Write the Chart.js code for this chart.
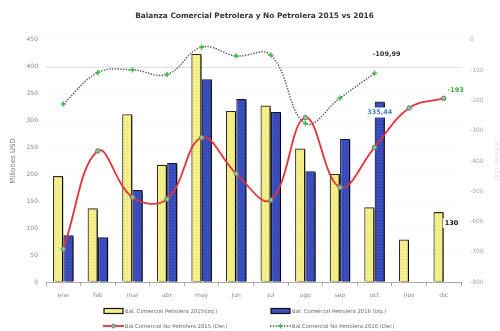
<!DOCTYPE html>
<html>
<head>
<meta charset="utf-8">
<script src="https://cdn.jsdelivr.net/npm/chart.js@4/dist/chart.umd.min.js"></script>
<style>
  html, body { margin: 0; padding: 0; background: #fff; }
  #wrap { position: relative; width: 500px; height: 331px; }
  .ley { position: absolute; height: 10px; display: flex; align-items: center;
         font: 5.3px 'DejaVu Sans', Verdana, sans-serif; color: #666; white-space: nowrap; }
  .ley canvas { margin-right: 1px; }
</style>
</head>
<body>
<div id="wrap">
  <canvas id="balanza"></canvas>
  <div id="leyenda"></div>
</div>
<script>
// Balanza comercial (millones USD)
const meses = ['ene', 'feb', 'mar', 'abr', 'may', 'jun', 'jul', 'ago', 'sep', 'oct', 'nov', 'dic'];
const petrolera2015 = [197, 137, 312, 218, 424, 318, 328, 248, 201, 139, 79, 130];
const petrolera2016 = [87, 83, 171, 221, 377, 340, 316, 206, 266, 335.44, null, null];
const noPetrolera2015 = [-691, -367, -520, -526, -323, -442, -529, -257, -487, -355, -225, -193];
const noPetrolera2016 = [-212, -108, -99, -114, -24, -53, -50, -276, -192, -109.99, null, null];
const ticksIzq = [0, 50, 100, 150, 200, 250, 300, 350, 400, 450];
const ticksDer = [0, -100, -200, -300, -400, -500, -600, -700, -800];

const FONT = "'DejaVu Sans', Verdana, sans-serif";
const canvas = document.getElementById('balanza');
const ctx = canvas.getContext('2d');

// relleno punteado tipo textura
function trama(base, punto) {
  const c = document.createElement('canvas');
  c.width = 3; c.height = 3;
  const g = c.getContext('2d');
  g.fillStyle = base; g.fillRect(0, 0, 3, 3);
  g.fillStyle = punto; g.fillRect(1, 1, 1, 1);
  return ctx.createPattern(c, 'repeat');
}
const amarillo = trama('#f6f08c', '#e3da6a');
const azul = trama('#3b4fc0', '#2a3a98');

function fmt(v) {
  return v.toFixed(2).replace('.', ',');
}

// sombra a la derecha de las barras
const sombraBarras = {
  id: 'sombraBarras',
  beforeDatasetDraw(chart, args) {
    if (args.meta.type !== 'bar') return;
    const c = chart.ctx;
    c.save();
    c.shadowColor = 'rgba(0,0,0,0.8)';
    c.shadowOffsetX = 2;
    c.shadowOffsetY = 1;
    c.shadowBlur = 0;
  },
  afterDatasetDraw(chart, args) {
    if (args.meta.type === 'bar') chart.ctx.restore();
  }
};

// linea solida en 400
const lineaGuia = {
  id: 'lineaGuia',
  beforeDatasetsDraw(chart) {
    const c = chart.ctx, a = chart.chartArea;
    const y = Math.round(chart.scales.y.getPixelForValue(400)) + 0.5;
    c.save();
    c.strokeStyle = '#e2e2e2';
    c.lineWidth = 1;
    c.beginPath();
    c.moveTo(a.left, y);
    c.lineTo(a.right, y);
    c.stroke();
    c.restore();
  }
};

function etiqueta(c, texto, x, y, color, fondo) {
  c.font = 'bold 6.5px ' + FONT;
  c.textAlign = 'center';
  c.textBaseline = 'middle';
  if (fondo) {
    const w = c.measureText(texto).width + 4;
    c.fillStyle = '#fff';
    c.fillRect(x - w / 2, y - 5, w, 10);
  }
  c.fillStyle = color;
  c.fillText(texto, x, y);
}

// etiquetas de valor
const etiquetas = {
  id: 'etiquetas',
  afterDatasetsDraw(chart) {
    const c = chart.ctx;
    c.save();
    const oct = 9, dic = 11;
    const pOct16 = chart.getDatasetMeta(3).data[oct];
    etiqueta(c, fmt(noPetrolera2016[oct]), pOct16.x + 12, pOct16.y - 19, '#333');
    const bOct16 = chart.getDatasetMeta(1).data[oct];
    etiqueta(c, fmt(petrolera2016[oct]), bOct16.x, bOct16.y + 11, '#4a7fc4', true);
    const pDic15 = chart.getDatasetMeta(2).data[dic];
    etiqueta(c, String(noPetrolera2015[dic]), pDic15.x + 12, pDic15.y - 8, '#3aa83a');
    const bDic15 = chart.getDatasetMeta(0).data[dic];
    etiqueta(c, String(petrolera2015[dic]), bDic15.x + 13, bDic15.y + 11, '#111', true);
    c.restore();
  }
};

const grafico = new Chart(ctx, {
  type: 'bar',
  data: {
    labels: meses,
    datasets: [
      {
        label: 'Bal. Comercial Petrolera 2015(Izq.)',
        data: petrolera2015,
        backgroundColor: amarillo,
        borderColor: '#2a2a22',
        borderWidth: 1.2,
        yAxisID: 'y',
        order: 2,
        categoryPercentage: 0.6,
        barPercentage: 0.98
      },
      {
        label: 'Bal. Comercial Petrolera 2016 (Izq.)',
        data: petrolera2016,
        backgroundColor: azul,
        borderColor: '#151a30',
        borderWidth: 1.2,
        yAxisID: 'y',
        order: 2,
        categoryPercentage: 0.6,
        barPercentage: 0.98
      },
      {
        type: 'line',
        label: 'Bal.Comercial No Petrolera 2015 (Der.)',
        data: noPetrolera2015,
        borderColor: '#e2343c',
        backgroundColor: '#e2343c',
        borderWidth: 1.8,
        tension: 0.4,
        pointRadius: 2.3,
        pointBackgroundColor: '#86c98a',
        pointBorderColor: '#777',
        pointBorderWidth: 1,
        yAxisID: 'y1',
        order: 1
      },
      {
        type: 'line',
        label: 'Bal.Comercial No Petrolera 2016 (Der.)',
        data: noPetrolera2016,
        borderColor: '#555',
        backgroundColor: '#555',
        borderWidth: 1.4,
        borderDash: [1.4, 1.4],
        tension: 0.4,
        pointStyle: 'cross',
        pointRadius: 2.6,
        pointBorderColor: '#3cba4a',
        pointBorderWidth: 1.5,
        yAxisID: 'y1',
        order: 1
      }
    ]
  },
  options: {
    responsive: true,
    maintainAspectRatio: false,
    animation: false,
    layout: { padding: { left: 9, right: 0, top: 0, bottom: 27 } },
    scales: {
      x: {
        grid: { display: true, drawOnChartArea: false, drawTicks: true, tickLength: 4, color: '#aaa', offset: true },
        border: { display: true, color: '#aaa' },
        ticks: { color: '#888', font: { family: FONT, size: 6 }, padding: 6 },
        afterFit(scale) { scale.height = 22; }
      },
      y: {
        position: 'left',
        min: 0,
        max: 450,
        afterBuildTicks(scale) { scale.ticks = ticksIzq.map(v => ({ value: v })); },
        grid: { color: '#e6e6e6', drawTicks: false },
        border: { display: false, dash: [1, 3] },
        ticks: { color: '#888', font: { family: FONT, size: 6 }, padding: 8 },
        title: { display: true, text: 'Millones USD', color: '#777', font: { family: FONT, size: 7 }, padding: 0 },
        afterFit(scale) { scale.width = 37; }
      },
      y1: {
        position: 'right',
        min: -800,
        max: 0,
        afterBuildTicks(scale) { scale.ticks = ticksDer.map(v => ({ value: v })); },
        grid: { drawOnChartArea: false, drawTicks: false },
        border: { display: false },
        ticks: { color: '#aaa', font: { family: FONT, size: 6 }, padding: 9 },
        title: { display: true, text: 'Millones USD', color: '#ddd', font: { family: FONT, size: 6 }, padding: 0 },
        afterFit(scale) { scale.width = 39; }
      }
    },
    plugins: {
      title: {
        display: true,
        text: 'Balanza Comercial Petrolera y No Petrolera 2015 vs 2016',
        color: '#333',
        font: { family: FONT, size: 7.4, weight: 'bold' },
        padding: { top: 12, bottom: 19 }
      },
      legend: { display: false },
      tooltip: { enabled: false }
    }
  },
  plugins: [sombraBarras, lineaGuia, etiquetas]
});

// leyenda en dos filas, tomada de los datasets
const posLeyenda = [[103, 306], [270, 306], [103, 321], [270, 321]];
const caja = document.getElementById('leyenda');
grafico.data.datasets.forEach((ds, i) => {
  const item = document.createElement('div');
  item.className = 'ley';
  item.style.left = posLeyenda[i][0] + 'px';
  item.style.top = posLeyenda[i][1] + 'px';
  const m = document.createElement('canvas');
  m.width = 21; m.height = 8;
  const g = m.getContext('2d');
  if (ds.type === 'line') {
    g.strokeStyle = ds.borderColor;
    g.lineWidth = ds.borderWidth;
    g.setLineDash(ds.borderDash || []);
    g.beginPath(); g.moveTo(0, 4); g.lineTo(21, 4); g.stroke();
    g.setLineDash([]);
    if (ds.pointStyle === 'cross') {
      g.strokeStyle = ds.pointBorderColor; g.lineWidth = 1.3;
      g.beginPath(); g.moveTo(8, 4); g.lineTo(13, 4); g.moveTo(10.5, 1.5); g.lineTo(10.5, 6.5); g.stroke();
    } else {
      g.fillStyle = ds.pointBackgroundColor; g.strokeStyle = ds.pointBorderColor; g.lineWidth = 1;
      g.beginPath(); g.arc(10.5, 4, 2, 0, Math.PI * 2); g.fill(); g.stroke();
    }
  } else {
    g.fillStyle = ds === grafico.data.datasets[0] ? '#f6f08c' : '#3b4fc0';
    g.fillRect(1, 1.5, 19, 5);
    g.strokeStyle = '#111'; g.lineWidth = 1.2;
    g.strokeRect(1, 1.5, 19, 5);
  }
  item.appendChild(m);
  const t = document.createElement('span');
  t.textContent = ds.label;
  item.appendChild(t);
  caja.appendChild(item);
});
</script>
</body>
</html>
